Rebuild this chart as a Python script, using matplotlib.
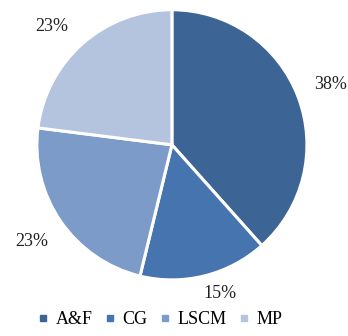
import numpy as np
import matplotlib.pyplot as plt
from matplotlib.lines import Line2D

# доли сегментов (в процентах)
names = ['A&F', 'CG', 'LSCM', 'MP']
shares = [38.4, 15.4, 23.2, 23.0]
colors = ['#3C6595', '#4674AE', '#7D9BC8', '#B4C3DE']

plt.rcParams['font.family'] = ['Liberation Serif', 'DejaVu Serif']

fig = plt.figure(figsize=(3.48, 3.36), dpi=100)
ax = fig.add_axes([0.106, 0.167, 0.776, 0.804])

wedges, texts, autotexts = ax.pie(
    shares, colors=colors, startangle=90, counterclock=False,
    autopct='%.0f%%', pctdistance=1.26,
    wedgeprops=dict(edgecolor='white', linewidth=2.2),
    textprops=dict(fontsize=13, color='#222222'))
ax.set_xlim(-1, 1)
ax.set_ylim(-1, 1)
ax.set_aspect('auto')

# подписи CG и MP чуть сдвинуты, как в Excel (best fit)
w = wedges[1]
ang = np.deg2rad((w.theta1 + w.theta2) / 2 + 4)
autotexts[1].set_position((1.16 * np.cos(ang), 1.16 * np.sin(ang)))
w = wedges[3]
ang = np.deg2rad((w.theta1 + w.theta2) / 2 + 4)
autotexts[3].set_position((1.25 * np.cos(ang), 1.25 * np.sin(ang)))

handles = [Line2D([], [], marker='s', linestyle='none', markersize=4,
                  markerfacecolor=c, markeredgecolor=c) for c in colors]
fig.legend(handles, names, loc='lower center', bbox_to_anchor=(0.46, -0.025),
           ncol=4, frameon=False, fontsize=13, handlelength=0.6,
           handletextpad=0.4, columnspacing=0.65)

fig.savefig('out.png', dpi=100)
